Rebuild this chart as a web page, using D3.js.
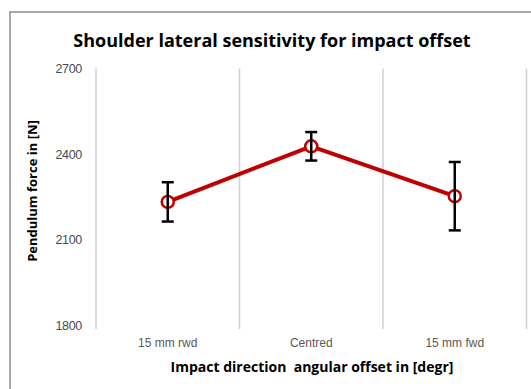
<!DOCTYPE html>
<html>
<head>
<meta charset="utf-8">
<script src="https://cdn.jsdelivr.net/npm/d3@7"></script>
<style>
  html, body { margin: 0; padding: 0; background: #fff; }
  svg { display: block; }
</style>
</head>
<body>
<svg id="chart" width="531" height="389"></svg>
<script>
// Pendulum force per impact offset, mean and error half-width in N
const categories = ["15 mm rwd", "Centred", "15 mm fwd"];
const forceMean = [2232, 2427, 2252];
const forceError = [69, 50, 120];
const yTicks = [1800, 2100, 2400, 2700];

const titleText = "Shoulder lateral sensitivity for impact offset";
const yTitle = "Pendulum force in [N]";
const xTitle = "Impact direction  angular offset in [degr]";

const svg = d3.select("#chart");
const W = 531, H = 389;
const plot = { left: 96, right: 526.5, top: 68.5, bottom: 325 };

// outer chart frame (open toward right/bottom edges of the window)
svg.append("path")
  .attr("d", `M10,${H + 2} L10,12 L${W + 2},12`)
  .attr("fill", "none")
  .attr("stroke", "#8c8c8c")
  .attr("stroke-width", 1.5);

const x = d3.scaleBand()
  .domain(categories)
  .range([plot.left, plot.right])
  .paddingInner(0).paddingOuter(0);

const y = d3.scaleLinear()
  .domain([1800, 2700])
  .range([plot.bottom, plot.top]);

// vertical category separators
const seps = categories.map(c => x(c)).concat([x(categories[categories.length - 1]) + x.bandwidth()]);
svg.append("g").selectAll("line")
  .data(seps).join("line")
  .attr("x1", d => d).attr("x2", d => d)
  .attr("y1", plot.top).attr("y2", plot.bottom + 4)
  .attr("stroke", "#d0d0d0")
  .attr("stroke-width", 1.5);

const tickFont = "'Liberation Sans', Arial, sans-serif";

// y axis labels
const yAxis = d3.axisLeft(y).tickValues(yTicks).tickSize(0).tickPadding(14).tickFormat(d3.format("d"));
const gy = svg.append("g").attr("transform", `translate(${plot.left},0)`).call(yAxis);
gy.select(".domain").remove();
gy.selectAll("text")
  .attr("fill", "#4a4a4a")
  .style("font-family", tickFont)
  .style("font-size", "12.5px")
  .style("letter-spacing", "-0.3px");

// x axis labels
const xAxis = d3.axisBottom(x).tickSize(0).tickPadding(13);
const gx = svg.append("g").attr("transform", `translate(0,${plot.bottom})`).call(xAxis);
gx.select(".domain").remove();
gx.selectAll("text")
  .attr("fill", "#595959")
  .style("font-family", tickFont)
  .style("font-size", "12px");

const cx = c => x(c) + x.bandwidth() / 2;
const pts = categories.map((c, i) => ({ c, m: forceMean[i], e: forceError[i] }));

// series line
svg.append("path")
  .datum(pts)
  .attr("fill", "none")
  .attr("stroke", "#c00000")
  .attr("stroke-width", 4)
  .attr("stroke-linejoin", "round")
  .attr("d", d3.line().x(d => cx(d.c)).y(d => y(d.m)));

// markers
svg.append("g").selectAll("circle")
  .data(pts).join("circle")
  .attr("cx", d => cx(d.c)).attr("cy", d => y(d.m))
  .attr("r", 6)
  .attr("fill", "#fff")
  .attr("stroke", "#c00000")
  .attr("stroke-width", 2.5);

// error bars
const eb = svg.append("g").attr("stroke", "#000").attr("stroke-width", 2.5);
pts.forEach(d => {
  const X = cx(d.c), top = y(d.m + d.e), bot = y(d.m - d.e);
  eb.append("line").attr("x1", X).attr("x2", X).attr("y1", top).attr("y2", bot);
  eb.append("line").attr("x1", X - 6).attr("x2", X + 6).attr("y1", top).attr("y2", top);
  eb.append("line").attr("x1", X - 6).attr("x2", X + 6).attr("y1", bot).attr("y2", bot);
});

// titles
svg.append("text")
  .attr("x", 272).attr("y", 47)
  .attr("text-anchor", "middle")
  .attr("fill", "#000")
  .style("font-family", "'Open Sans', sans-serif")
  .style("font-weight", "bold")
  .style("font-size", "18px")
  .text(titleText);

svg.append("text")
  .attr("transform", `translate(37,191) rotate(-90)`)
  .attr("text-anchor", "middle")
  .attr("fill", "#000")
  .style("font-family", "'Open Sans', sans-serif")
  .style("font-weight", "bold")
  .style("font-size", "13px")
  .text(yTitle);

svg.append("text")
  .attr("x", 312).attr("y", 372)
  .attr("text-anchor", "middle")
  .attr("fill", "#000")
  .style("font-family", "'Open Sans', sans-serif")
  .style("font-weight", "bold")
  .style("font-size", "14px")
  .style("white-space", "pre")
  .text(xTitle);
</script>
</body>
</html>
